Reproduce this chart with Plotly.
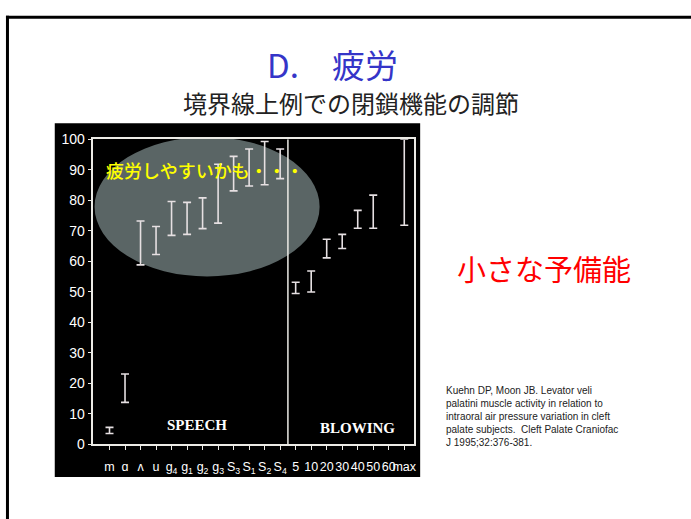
import plotly.graph_objects as go

# categories (speech sounds, then blowing pressures)
categories = ['m', 'ɑ', 'ʌ', 'u', 'g<sub>4</sub>', 'g<sub>1</sub>', 'g<sub>2</sub>', 'g<sub>3</sub>',
              'S<sub>3</sub>', 'S<sub>1</sub>', 'S<sub>2</sub>', 'S<sub>4</sub>',
              '5', '10', '20', '30', '40', '50', '60', 'max']
# range of muscle activity (% of max), None = no bar
act_low = [3.5, 13.7, 58.8, 62.2, 68.5, 68.8, 70.7, 72.5, 83.1, 84.7, 85.1, 87.1,
           49.4, 49.9, 61.1, 64.2, 70.8, 70.8, None, 71.8]
act_high = [5.5, 23.0, 73.2, 71.4, 79.6, 79.3, 80.8, 91.8, 94.4, 96.8, 99.3, 96.8,
            53.1, 56.8, 67.2, 68.8, 76.7, 81.7, None, 100]
n_speech = 12
y_ticks = [0, 10, 20, 30, 40, 50, 60, 70, 80, 90, 100]

W, H = 691, 519

def px(x):
    return x / W

def py(y):
    return 1 - y / H

xs, mids, up, down = [], [], [], []
for i, (lo, hi) in enumerate(zip(act_low, act_high)):
    if lo is None:
        continue
    xs.append(i)
    mids.append((lo + hi) / 2)
    up.append(hi - (lo + hi) / 2)
    down.append((lo + hi) / 2 - lo)

fig = go.Figure()
fig.add_trace(go.Scatter(
    x=xs, y=mids, mode='markers',
    marker=dict(size=1, color='rgba(0,0,0,0)'),
    error_y=dict(type='data', symmetric=False, array=up, arrayminus=down,
                 color='#e6e0e2', thickness=1.6, width=4),
    hoverinfo='skip', showlegend=False
))

tick_font = dict(family='Liberation Sans, Arial, sans-serif', size=12.5, color='white')

fig.update_layout(
    width=W, height=H,
    margin=dict(l=0, r=0, t=0, b=0, pad=0),
    paper_bgcolor='white',
    plot_bgcolor='rgba(0,0,0,0)',
    showlegend=False,
    xaxis=dict(domain=[px(93), px(416)], range=[-1.09, 19.64],
               tickvals=list(range(len(categories))), ticktext=categories,
               showgrid=False, zeroline=False, showline=True, linecolor='#ecebe6', linewidth=2,
               mirror=True, ticks='outside', ticklen=4, tickcolor='#ecebe6', tickwidth=1,
               tickfont=tick_font, tickangle=0, ticklabelstandoff=6),
    yaxis=dict(domain=[py(450), py(135.5)], range=[0, 100],
               tickvals=y_ticks,
               showgrid=False, zeroline=False, showline=True, linecolor='#ecebe6', linewidth=2,
               mirror=True, ticks='outside', ticklen=3, tickcolor='#ecebe6', tickwidth=1,
               tickfont=dict(tick_font, size=14)),
    shapes=[
        # slide frame
        dict(type='line', xref='paper', yref='paper', x0=px(6), x1=px(700), y0=py(9.5), y1=py(9.5),
             line=dict(color='black', width=3)),
        dict(type='line', xref='paper', yref='paper', x0=px(7.5), x1=px(7.5), y0=py(8), y1=py(530),
             line=dict(color='black', width=3)),
        # black picture panel
        dict(type='rect', xref='paper', yref='paper', x0=px(55), x1=px(422), y0=py(484), y1=py(119),
             fillcolor='black', line=dict(width=0), layer='below'),
        # highlight ellipse
        dict(type='circle', xref='paper', yref='paper', x0=px(95), x1=px(321), y0=py(277), y1=py(133),
             fillcolor='rgba(125,140,140,0.72)', line=dict(width=0), layer='below'),
        # speech / blowing divider
        dict(type='line', xref='x', yref='y', x0=n_speech - 0.5, x1=n_speech - 0.5, y0=0, y1=100,
             line=dict(color='#ecebe6', width=1.5)),
    ],
)

cjk = 'Noto Sans CJK JP'
cite = ['Kuehn DP, Moon JB. Levator veli',
        'palatini muscle activity in relation to',
        'intraoral air pressure variation in cleft',
        'palate subjects.  Cleft Palate Craniofac',
        'J 1995;32:376-381.']
ann = [
    dict(x=px(334), y=py(58), text='D.\u3000疲労', font=dict(family=cjk, size=33, color='#3535c8')),
    dict(x=px(353), y=py(97), text='境界線上例での閉鎖機能の調節', font=dict(family=cjk, size=24, color='#222222')),
    dict(x=px(546), y=py(268), text='小さな予備能', font=dict(family=cjk, size=29, color='#ff0000')),
    dict(x=px(206), y=py(167), text='疲労しやすいかも・・・', font=dict(family=cjk, size=18, color='#ffff00', weight=500)),
    dict(x=px(198), y=py(430), text='<b>SPEECH</b>', font=dict(family='Liberation Serif, serif', size=15, color='white')),
    dict(x=px(359), y=py(433), text='<b>BLOWING</b>', font=dict(family='Liberation Serif, serif', size=15, color='white')),
    dict(x=px(446), y=py(422), text='<br>'.join(cite), xanchor='left', align='left',
         font=dict(family='Liberation Sans, Arial, sans-serif', size=10, color='#222222')),
]
for a in ann:
    a.setdefault('xanchor', 'center')
    fig.add_annotation(xref='paper', yref='paper', yanchor='middle', showarrow=False, **a)

# page margin off so the figure sits at the window origin
fig.write_html('out.html', config={'displayModeBar': False},
               post_script="document.body.style.margin='0';document.body.style.overflow='hidden';")
